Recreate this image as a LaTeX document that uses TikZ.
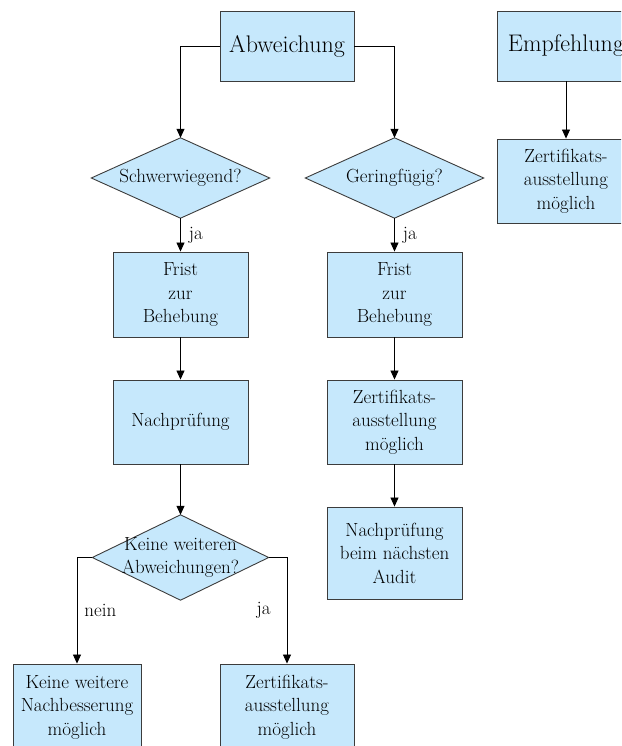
\documentclass[tikz,border=0pt]{standalone}
\usetikzlibrary{arrows.meta,backgrounds}
\definecolor{boxfill}{RGB}{198,232,252}
\definecolor{boxline}{RGB}{60,60,60}
\begin{document}
\begin{tikzpicture}[x=1pt,y=-1pt,
  txt/.style={font=\fontsize{19}{23.5}\selectfont},
  big/.style={font=\fontsize{24}{28}\selectfont},
  box/.style={txt, draw=boxline, fill=boxfill, line width=0.9pt, align=center, inner sep=0pt},
  dia/.style={txt, align=center, inner sep=0pt},
  diashape/.style={draw=boxline, fill=boxfill, line width=0.9pt},
  conn/.style={draw=black, line width=0.8pt, -{Triangle[length=9pt,width=8pt]}},
  lab/.style={txt, inner sep=0pt}
]
\useasboundingbox (0,0) rectangle (621,746);
\clip (0,0) rectangle (621,746);

% top row
\node[box, big, minimum width=134pt, minimum height=70pt] (abw) at (287,46) {Abweichung};
\node[box, big, minimum width=138pt, minimum height=70pt] (empf) at (566,46) {Empfehlung};

% decisions
\node[dia, minimum width=178pt, minimum height=80pt] (schw) at (180.5,178) {Schwerwiegend?};
\node[dia, minimum width=178pt, minimum height=80pt] (gering) at (394.5,178) {Geringfügig?};
\node[dia, minimum width=176pt, minimum height=85pt] (keine) at (180.5,557.5) {Keine weiteren\\Abweichungen?};
\begin{scope}[on background layer]
  \foreach \d in {schw,gering,keine}
    \path[diashape] (\d.north) -- (\d.east) -- (\d.south) -- (\d.west) -- cycle;
\end{scope}

% boxes
\node[box, minimum width=138pt, minimum height=84pt] (zert0) at (566,181) {Zertifikats-\\ausstellung\\möglich};
\node[box, minimum width=135pt, minimum height=85pt] (frist1) at (180.5,294.5) {Frist\\zur\\Behebung};
\node[box, minimum width=135pt, minimum height=84pt] (nach1) at (180.5,422) {Nachprüfung};
\node[box, minimum width=135pt, minimum height=85pt] (frist2) at (394.5,294.5) {Frist\\zur\\Behebung};
\node[box, minimum width=135pt, minimum height=84pt] (zert2) at (394.5,422) {Zertifikats-\\ausstellung\\möglich};
\node[box, minimum width=135pt, minimum height=92pt] (audit) at (394.5,553) {Nachprüfung\\beim nächsten\\Audit};
\node[box, minimum width=128pt, minimum height=86pt] (kbox) at (77,707) {Keine weitere\\Nachbesserung\\möglich};
\node[box, minimum width=134pt, minimum height=86pt] (zert3) at (287,707) {Zertifikats-\\ausstellung\\möglich};

% connectors
\draw[conn] (abw.west) -| (schw.north);
\draw[conn] (abw.east) -| (gering.north);
\draw[conn] (empf) -- (zert0);
\draw[conn] (schw.south) -- node[lab, right, xshift=8pt] {ja} (frist1.north);
\draw[conn] (gering.south) -- node[lab, right, xshift=8pt] {ja} (frist2.north);
\draw[conn] (frist1) -- (nach1);
\draw[conn] (frist2) -- (zert2);
\draw[conn] (zert2) -- (audit);
\draw[conn] (nach1) -- (keine.north);
\draw[conn] (keine.west) -| node[lab, pos=0.75, right, xshift=7pt] {nein} (kbox.north);
\draw[conn] (keine.east) -| node[lab, pos=0.75, left, xshift=-16pt] {ja} (zert3.north);
\end{tikzpicture}
\end{document}
